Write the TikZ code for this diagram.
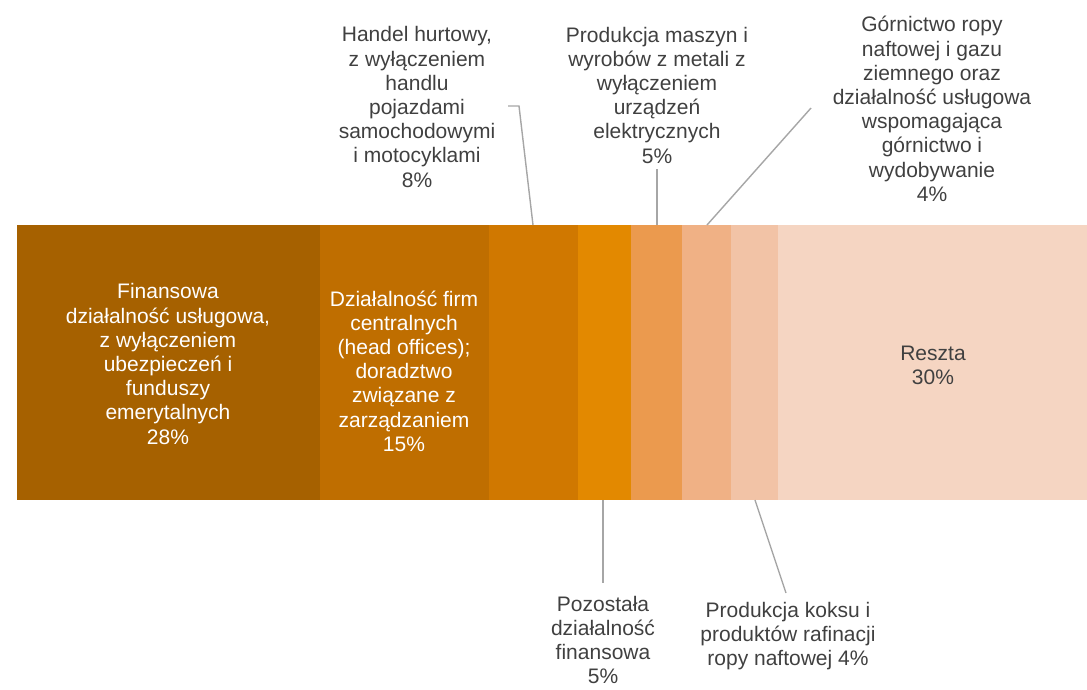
\documentclass[tikz,border=0pt]{standalone}
\usepackage{fontspec}
\setmainfont{Liberation Sans}
\definecolor{c1}{HTML}{A66100}
\definecolor{c2}{HTML}{BF6E00}
\definecolor{c3}{HTML}{D07800}
\definecolor{c4}{HTML}{E38900}
\definecolor{c5}{HTML}{EB9A4E}
\definecolor{c6}{HTML}{F0B185}
\definecolor{c7}{HTML}{F2C3A6}
\definecolor{c8}{HTML}{F5D5C2}
\definecolor{txt}{HTML}{404040}
\definecolor{lead}{HTML}{A6A6A6}
\begin{document}
\begin{tikzpicture}[x=1pt,y=-1pt,
  lbl/.style={align=center,text=txt,inner sep=0pt,font=\fontsize{21}{24.2}\selectfont},
  inlbl/.style={align=center,text=white,inner sep=0pt,font=\fontsize{21}{24.2}\selectfont},
  leader/.style={draw=lead,line width=1.4pt}]
\useasboundingbox (0,0) rectangle (1087,689);
% bar segments
\fill[c1] (17,225) rectangle (320,500);
\fill[c2] (320,225) rectangle (489,500);
\fill[c3] (489,225) rectangle (578,500);
\fill[c4] (578,225) rectangle (631,500);
\fill[c5] (631,225) rectangle (682,500);
\fill[c6] (682,225) rectangle (731,500);
\fill[c7] (731,225) rectangle (778,500);
\fill[c8] (778,225) rectangle (1087,500);
% inside labels
\node[inlbl] (l1) at (168,364) {Finansowa\\działalność usługowa,\\z wyłączeniem\\ubezpieczeń i\\funduszy\\emerytalnych\\28\%};
\node[inlbl] (l2) at (404,371) {Działalność firm\\centralnych\\(head offices);\\doradztwo\\związane z\\zarządzaniem\\15\%};
\node[lbl] (l8) at (933,365) {Reszta\\30\%};
% outside labels
\node[lbl] (l3) at (417,107) {Handel hurtowy,\\z wyłączeniem\\handlu\\pojazdami\\samochodowymi\\i motocyklami\\8\%};
\node[lbl] (l5) at (657,95) {Produkcja maszyn i\\wyrobów z metali z\\wyłączeniem\\urządzeń\\elektrycznych\\5\%};
\node[lbl] (l6) at (932,109) {Górnictwo ropy\\naftowej i gazu\\ziemnego oraz\\działalność usługowa\\wspomagająca\\górnictwo i\\wydobywanie\\4\%};
\node[lbl] (l4) at (603,640) {Pozostała\\działalność\\finansowa\\5\%};
\node[lbl] (l7) at (788,636) {Produkcja koksu i\\produktów rafinacji\\ropy naftowej 4\%};
% leader anchor points
\coordinate (p3) at (533,225);
\coordinate (q3) at (519,106);
\coordinate (r3) at (508,106);
\coordinate (p5) at (657,225);
\coordinate (q5) at (657,169);
\coordinate (p6) at (707,225);
\coordinate (q6) at (811,108);
\coordinate (p4) at (603,500);
\coordinate (q4) at (603,583);
\coordinate (p7) at (755,500);
\coordinate (q7) at (786,593);
\draw[leader] (p3) -- (q3) -- (r3);
\draw[leader] (p5) -- (q5);
\draw[leader] (p6) -- (q6);
\draw[leader] (p4) -- (q4);
\draw[leader] (p7) -- (q7);
\end{tikzpicture}
\end{document}
